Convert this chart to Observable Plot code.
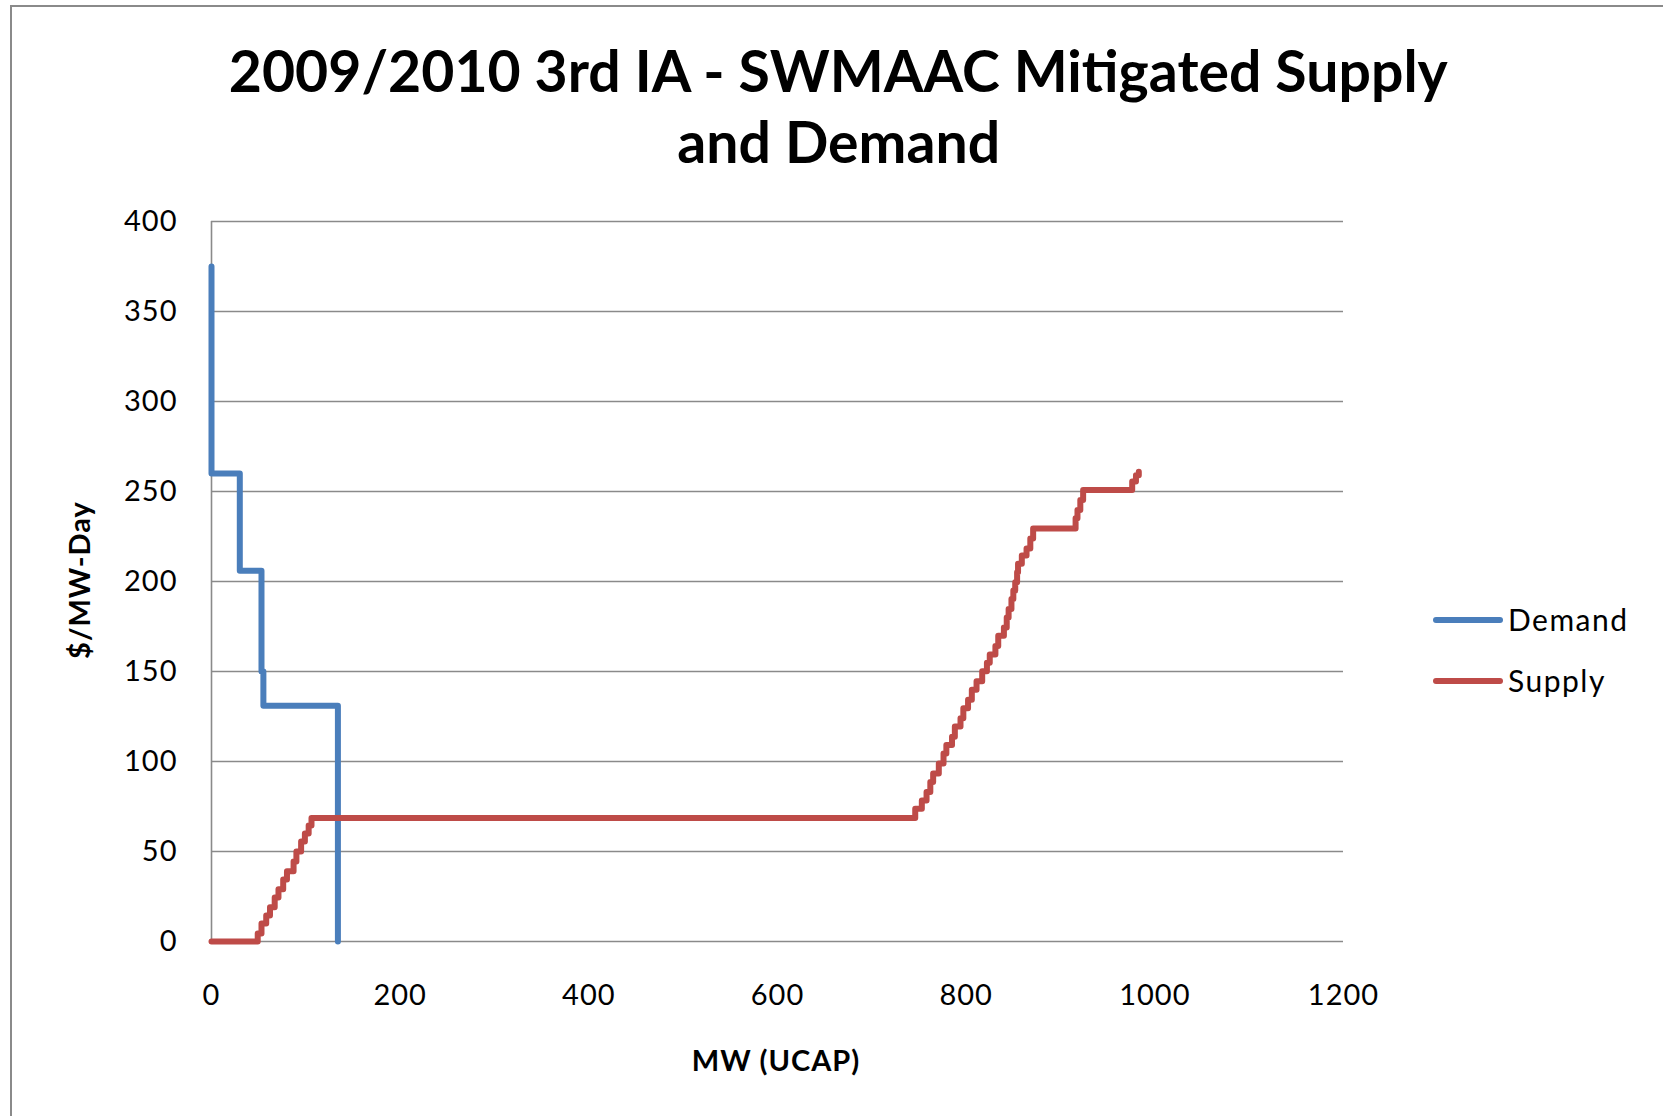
<!DOCTYPE html>
<html><head><meta charset="utf-8">
<script src="https://cdn.jsdelivr.net/npm/d3@7"></script>
<script src="https://cdn.jsdelivr.net/npm/@observablehq/plot@0.6"></script>
<style>
body{margin:0;background:#fff;}
#wrap{position:relative;width:1663px;height:1116px;overflow:hidden;background:#fff;font-family:Lato,"Open Sans",sans-serif;color:#000;}
#frame{position:absolute;left:10px;top:5px;width:1800px;height:1300px;border-left:2px solid #8a8a8a;border-top:2px solid #8a8a8a;}
.tl{position:absolute;left:7px;width:1663px;text-align:center;font-weight:bold;font-size:58px;line-height:58px;white-space:nowrap;}
.tl span{display:inline-block;transform-origin:50% 50%;}
#chart{position:absolute;left:0;top:190px;}
#chart svg text{letter-spacing:1px;}
.lab{position:absolute;font-weight:bold;font-size:29px;letter-spacing:1px;white-space:nowrap;transform:translate(-50%,-50%);}
.leg{position:absolute;font-size:30px;letter-spacing:1.5px;white-space:nowrap;}
.sw{position:absolute;width:70px;height:6px;border-radius:3px;}
</style></head>
<body><div id="wrap">
<div id="frame"></div>
<div class="tl" id="t1" style="top:41px"><span>2009/2010 3rd IA - SWMAAC Mitigated Supply</span></div>
<div class="tl" id="t2" style="top:112px"><span>and Demand</span></div>
<div id="chart"></div>
<div class="lab" style="left:776px;top:1059px">MW (UCAP)</div>
<div class="lab" style="left:78px;top:580px;transform:translate(-50%,-50%) rotate(-90deg)">$/MW-Day</div>
<div class="sw" style="left:1433px;top:617px;background:#4A7EBB"></div>
<div class="leg" style="left:1508px;top:601px">Demand</div>
<div class="sw" style="left:1433px;top:678px;background:#BE4B48"></div>
<div class="leg" style="left:1508px;top:662px">Supply</div>
</div>
<script>
// Demand curve (step-after vertices)
const demandMW    = [0,   0,   30,  53,  55,  134];
const demandPrice = [375, 260, 206, 150, 131, 0];
// Supply curve (step-after vertices)
const supplyMW = [0, 49, 53, 58, 62, 67, 71, 76, 80, 87, 90, 95, 99, 103, 106, 110,
  746, 753, 758, 762, 765, 771, 776, 779, 785, 788, 794, 797, 802, 806, 811, 817, 822, 825,
  831, 834, 840, 843, 845, 848, 850, 852, 854, 855, 859, 864, 868, 871,
  916, 918, 921, 924, 976, 980, 983];
const supplyPrice = [0, 4.5, 10, 14.5, 19, 24.5, 29, 34.5, 39, 44.5, 50, 55.5, 60, 64.5, 68.6, 68.6,
  73.7, 78.3, 83, 88.6, 93.3, 98.9, 104.4, 109.1, 113.8, 119.4, 124, 129.6, 134.3, 139.9, 144.6, 150.2, 154.8, 159.5,
  164.2, 169.8, 174.4, 180, 184.7, 190.3, 195, 199.6, 205.2, 209.9, 214.5, 218.3, 223.9, 229.5,
  235.1, 239.7, 245.3, 250.9, 255.5, 259, 261];
const xTicks = [0, 200, 400, 600, 800, 1000, 1200];
const yTicks = [0, 50, 100, 150, 200, 250, 300, 350, 400];

const demand = demandMW.map((x, i) => ({x, y: demandPrice[i]}));
const supply = supplyMW.map((x, i) => ({x, y: supplyPrice[i]}));

const chart = Plot.plot({
  width: 1663, height: 926,
  marginLeft: 211, marginRight: 320, marginTop: 31, marginBottom: 175,
  style: {fontFamily: "Lato, 'Open Sans', sans-serif", fontSize: "29px", color: "#000", background: "transparent", overflow: "visible"},
  x: {domain: [0, 1200]},
  y: {domain: [0, 400]},
  marks: [
    Plot.ruleY(yTicks, {stroke: "#8a8a8a", strokeWidth: 1.6, strokeOpacity: 1}),
    Plot.ruleX([0], {y1: 0, y2: 400, stroke: "#8a8a8a", strokeWidth: 1.6}),
    Plot.axisY({ticks: yTicks, tickSize: 0, tickPadding: 34, label: null, fill: "#000", tickFormat: d => String(d)}),
    Plot.axisX({ticks: xTicks, tickSize: 0, tickPadding: 43, label: null, fill: "#000", tickFormat: d => String(d)}),
    Plot.line(demand, {x: "x", y: "y", curve: "step-after", stroke: "#4A7EBB", strokeWidth: 6, strokeLinejoin: "round", strokeLinecap: "round"}),
    Plot.line(supply, {x: "x", y: "y", curve: "step-after", stroke: "#BE4B48", strokeWidth: 6, strokeLinejoin: "round", strokeLinecap: "round"})
  ]
});
document.getElementById("chart").appendChild(chart);

// fit title width to reference
const s1 = document.querySelector("#t1 span");
const w = s1.getBoundingClientRect().width;
const k = 1219 / w;
document.querySelectorAll(".tl span").forEach(s => s.style.transform = `scaleX(${k})`);
</script>
</body></html>
